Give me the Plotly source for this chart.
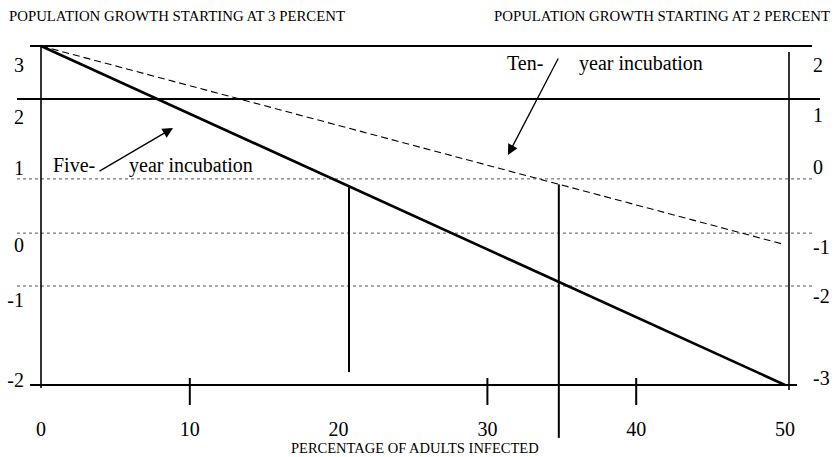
import plotly.graph_objects as go

# ---------------- data ----------------
pct_infected = [0, 50]
five_year_3pct = [3.0, -2.0]          # solid line, left scale
ten_year_3pct = [3.0, 0.07]           # dashed line, left scale

drop_x = [20.7, 34.8]                 # vertical marker lines
drop_top = [0.93, 0.96]
drop_bottom = [-1.81, -2.78]

x_tick_vals = [0, 10, 20, 30, 40, 50]
x_tick_text = ["0", "10", "20", "30", "40", "50"]
x_tick_marks = [10, 30, 40]

left_tick_vals = [2.72, 1.95, 1.20, 0.07, -0.75, -1.93]
left_tick_text = ["3", "2", "1", "0", "-1", "-2"]
right_tick_vals = [2.72, 1.98, 1.22, 0.04, -0.69, -1.90]
right_tick_text = ["2", "1", "0", "-1", "-2", "-3"]

grid_levels = [3.0, 2.22, 1.04, 0.24, -0.54, -2.0]
grid_styles = ["solid", "solid", "dot", "dot", "dot", "solid"]

# ---------------- geometry helpers ----------------
OFF = 0                      # page body margin removed by post_script
SW, SH = 834, 457            # screen size
W, H = SW - OFF, SH - OFF    # figure size
X0PX, XS = 41.0, 14.88       # screen px of x=0, px per unit
Y0PX, YS = 46.0, 67.8        # screen px of y=3, px per unit


def fx(px):
    return (px - X0PX) / XS


def fy(py):
    return 3.0 - (py - Y0PX) / YS


XR = [fx(OFF), fx(OFF + W)]
YR = [fy(OFF + H), fy(OFF)]

FONT = "Liberation Serif, Times New Roman, serif"

fig = go.Figure()

fig.add_trace(go.Scatter(x=pct_infected, y=five_year_3pct, mode="lines",
                         line=dict(color="black", width=2.6), showlegend=False,
                         hoverinfo="skip"))
fig.add_trace(go.Scatter(x=pct_infected, y=ten_year_3pct, mode="lines",
                         line=dict(color="black", width=1.1, dash="7px,4px"),
                         showlegend=False, hoverinfo="skip", yaxis="y2"))

vx, vy = [], []
for xv, t, b in zip(drop_x, drop_top, drop_bottom):
    vx += [xv, xv, None]
    vy += [t, b, None]
fig.add_trace(go.Scatter(x=vx, y=vy, mode="lines",
                         line=dict(color="black", width=2), showlegend=False,
                         hoverinfo="skip"))

shapes = []
extents = [(30, 812), (17, 820), (17, 812), (17, 812), (17, 812), (30, 797)]
for lvl, sty, (a, b) in zip(grid_levels, grid_styles, extents):
    if sty == "solid":
        ln = dict(color="black", width=2)
    else:
        ln = dict(color="#555555", width=1, dash="dot")
    shapes.append(dict(type="line", xref="x", yref="y", x0=fx(a), x1=fx(b),
                       y0=lvl, y1=lvl, line=ln, layer="below"))
shapes.append(dict(type="line", xref="x", yref="y", x0=0, x1=0,
                   y0=fy(46), y1=fy(388), line=dict(color="black", width=1.6)))
shapes.append(dict(type="line", xref="x", yref="y", x0=fx(789), x1=fx(789),
                   y0=fy(52), y1=fy(390), line=dict(color="black", width=1.6)))
for t in x_tick_marks:
    shapes.append(dict(type="line", xref="x", yref="y", x0=t, x1=t,
                       y0=fy(378), y1=fy(405), line=dict(color="black", width=2)))


def P(px, py):
    return (px - OFF) / W, 1 - (py - OFF) / H


annotations = []


def txt(text, px, py, size, xanchor="left"):
    x, y = P(px, py)
    annotations.append(dict(text=text, x=x, y=y, xref="paper", yref="paper",
                            xanchor=xanchor, yanchor="middle", showarrow=False,
                            font=dict(family=FONT, size=size, color="black")))


txt("POPULATION GROWTH STARTING AT 3 PERCENT", 7, 16, 14.8)
txt("POPULATION GROWTH STARTING AT 2 PERCENT", 832, 16, 14.8, xanchor="right")
txt("PERCENTAGE OF ADULTS INFECTED", 415, 448, 14.5, xanchor="center")
txt("Five-", 51, 165, 20)
txt("year incubation", 127, 165, 20)
txt("Ten-", 505, 63, 20)
txt("year incubation", 577, 63, 20)


def arrow(tip_px, tip_py, tail_px, tail_py):
    x, y = P(tip_px, tip_py)
    annotations.append(dict(text="", x=x, y=y, xref="paper", yref="paper",
                            showarrow=True, ax=tail_px - tip_px, ay=tail_py - tip_py,
                            arrowhead=2, arrowsize=1.6, arrowwidth=1.3,
                            arrowcolor="black", standoff=0, startstandoff=0))


arrow(173, 128, 98, 172)
arrow(508, 155, 559, 57)

fig.update_layout(
    width=W, height=H,
    margin=dict(l=0, r=0, t=0, b=0),
    paper_bgcolor="white", plot_bgcolor="white",
    showlegend=False,
    hovermode=False,
    shapes=shapes,
    annotations=annotations,
    font=dict(family=FONT, color="black"),
    xaxis=dict(range=XR, showgrid=False, zeroline=False, showline=False,
               tickmode="array", tickvals=x_tick_vals, ticktext=x_tick_text,
               ticks="", anchor="free", position=1 - (385 - OFF) / H,
               ticklabelstandoff=30, tickfont=dict(family=FONT, size=20)),
    yaxis=dict(range=YR, showgrid=False, zeroline=False, showline=False,
               tickmode="array", tickvals=left_tick_vals, ticktext=left_tick_text,
               ticks="", anchor="free", position=(24 - OFF) / W, side="left",
               ticklabelstandoff=0, tickfont=dict(family=FONT, size=20)),
    yaxis2=dict(range=YR, showgrid=False, zeroline=False, showline=False,
                tickmode="array", tickvals=right_tick_vals, ticktext=right_tick_text,
                ticks="", anchor="free", position=(812 - OFF) / W, side="right",
                overlaying="y", ticklabelstandoff=0,
                tickfont=dict(family=FONT, size=20)),
)

fig.write_html("out.html",
               config={"displayModeBar": False, "staticPlot": True},
               post_script="document.body.style.margin='0px';"
                           "document.body.style.overflow='hidden';")
